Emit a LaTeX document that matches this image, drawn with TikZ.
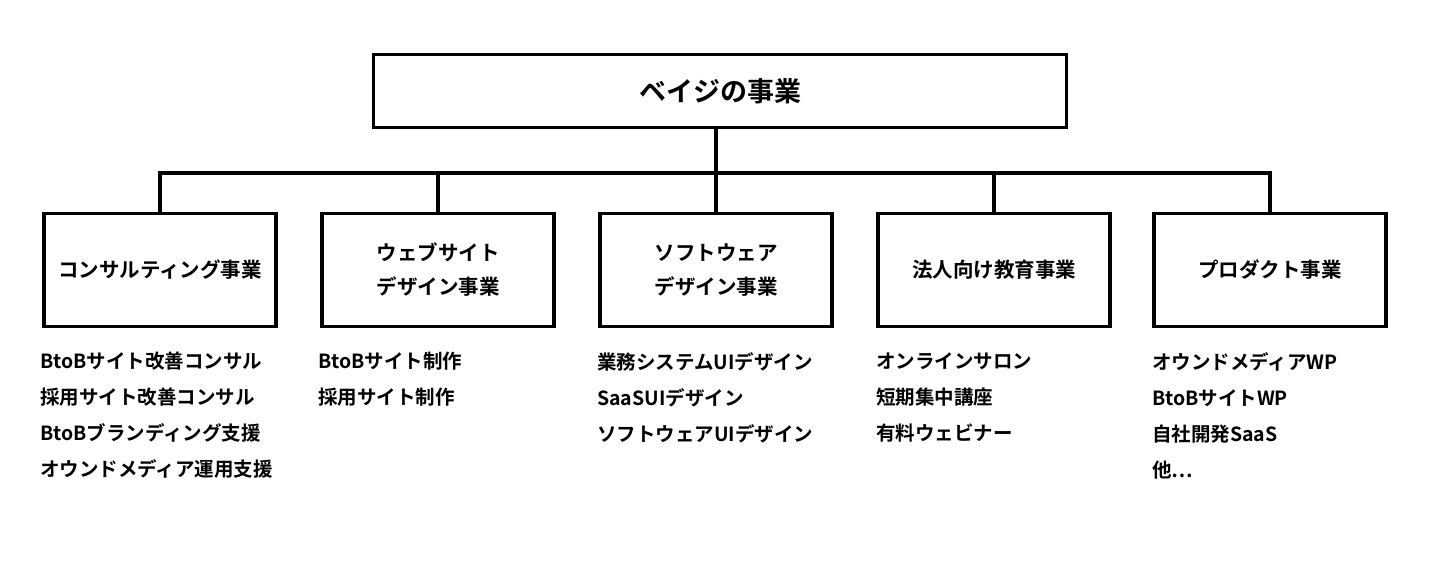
\documentclass[tikz,border=0pt]{standalone}
\usepackage{fontspec}
\setmainfont{Noto Sans CJK JP}[BoldFont={* Bold}]
\begin{document}
\begin{tikzpicture}[x=1pt,y=-1pt,
  bx/.style={draw,line width=3.5pt,minimum width=232pt,minimum height=113pt,anchor=center,align=center,font=\bfseries\fontsize{20.5}{34}\selectfont},
  lst/.style={anchor=north west,align=left,inner sep=0pt,font=\bfseries\fontsize{19.5}{36}\selectfont},
  ln/.style={line width=3.5pt}]
\useasboundingbox (0,0) rectangle (1440,578);
\node[draw,line width=3.5pt,minimum width=693pt,minimum height=73pt,anchor=center,font=\bfseries\fontsize{27}{30}\selectfont] (top) at (720,91) {ベイジの事業};
\node[bx] (b1) at (160,270) {コンサルティング事業};
\node[bx] (b2) at (438,270) {ウェブサイト\\デザイン事業};
\node[bx] (b3) at (716,270) {ソフトウェア\\デザイン事業};
\node[bx] (b4) at (994,270) {法人向け教育事業};
\node[bx] (b5) at (1270,270) {プロダクト事業};
\coordinate (j) at (716,173);
\draw[ln] (top.south -| j) -- (j);
\draw[ln] (b1.north) |- (j) -| (b5.north);
\foreach \b in {b2,b3,b4} \draw[ln] (\b.north) -- (\b.north |- j);
\node[lst] (l1) at (40,352) {BtoBサイト改善コンサル\\採用サイト改善コンサル\\BtoBブランディング支援\\オウンドメディア運用支援};
\node[lst] (l2) at (318,352) {BtoBサイト制作\\採用サイト制作};
\node[lst] (l3) at (597,352) {業務システムUIデザイン\\SaaSUIデザイン\\ソフトウェアUIデザイン};
\node[lst] (l4) at (876,352) {オンラインサロン\\短期集中講座\\有料ウェビナー};
\node[lst] (l5) at (1152,352) {オウンドメディアWP\\BtoBサイトWP\\自社開発SaaS\\他…};
\end{tikzpicture}
\end{document}
